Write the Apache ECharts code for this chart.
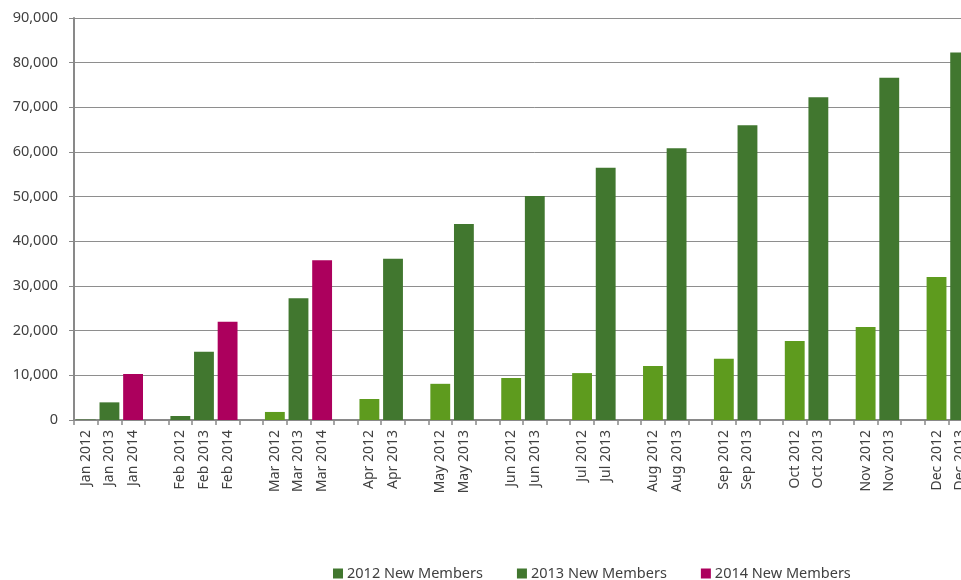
<!DOCTYPE html>
<html>
<head>
<meta charset="utf-8">
<script src="https://cdn.jsdelivr.net/npm/echarts@6/dist/echarts.min.js"></script>
<style>
html,body{margin:0;padding:0;background:#fff;overflow:hidden;}
#chart{width:1000px;height:580px;}
</style>
</head>
<body>
<div id="chart"></div>
<script>
var months = ['Jan','Feb','Mar','Apr','May','Jun','Jul','Aug','Sep','Oct','Nov','Dec'];
var members2012 = [100, 900, 1800, 4700, 8100, 9400, 10500, 12100, 13700, 17700, 20800, 32000];
var members2013 = [3950, 15300, 27250, 36100, 43900, 50150, 56500, 60850, 66000, 72250, 76600, 82300];
var members2014 = [10300, 22000, 35750];
var yTicks = [0, 10000, 20000, 30000, 40000, 50000, 60000, 70000, 80000, 90000];

var categories = [], s12 = [], s13 = [], s14 = [], monthOf = [];
months.forEach(function (m, i) {
  categories.push(m + ' 2012'); s12.push(members2012[i]); s13.push(null); s14.push(null); monthOf.push(i);
  categories.push(m + ' 2013'); s12.push(null); s13.push(members2013[i]); s14.push(null); monthOf.push(i);
  if (i < members2014.length) {
    categories.push(m + ' 2014'); s12.push(null); s13.push(null); s14.push(members2014[i]); monthOf.push(i);
  }
  categories.push(''); s12.push(null); s13.push(null); s14.push(null); monthOf.push(i);
});

var DARK = '#41772F', LIGHT = '#5E9B1E', MAG = '#AC005D';
var FONT = 'Noto Sans';
var chart = echarts.init(document.getElementById('chart'), null, {renderer: 'canvas'});
chart.setOption({
  animation: false,
  backgroundColor: '#fff',
  color: [DARK, DARK, MAG],
  textStyle: {fontFamily: FONT},
  legend: {
    left: 328, top: 561,
    itemWidth: 10, itemHeight: 10, itemGap: 34,
    icon: 'rect',
    textStyle: {fontFamily: FONT, fontSize: 14.5, color: '#404040', padding: [0, 0, 0, -1]},
    data: [
      {name: '2012 New Members', itemStyle: {color: DARK}},
      {name: '2013 New Members', itemStyle: {color: DARK}},
      {name: '2014 New Members', itemStyle: {color: MAG}}
    ]
  },
  grid: {left: 74, top: 18, height: 402, width: 921.6, containLabel: false},
  xAxis: {
    type: 'category',
    data: categories,
    axisLine: {lineStyle: {color: '#898989', width: 2}},
    axisTick: {show: true, interval: 0, length: 5, lineStyle: {color: '#898989', width: 1.5}},
    axisLabel: {interval: 0, rotate: 90, margin: 10, fontSize: 14, color: '#404040', fontFamily: FONT},
    splitLine: {show: false}
  },
  yAxis: {
    type: 'value',
    min: yTicks[0], max: yTicks[yTicks.length - 1], interval: yTicks[1] - yTicks[0],
    axisLine: {show: true, lineStyle: {color: '#898989', width: 2}},
    axisTick: {show: true, length: 5, lineStyle: {color: '#898989', width: 1}},
    axisLabel: {margin: 16, fontSize: 14.5, color: '#404040', fontFamily: FONT,
      formatter: function (v) { return v.toLocaleString('en-US'); }},
    splitLine: {show: true, lineStyle: {color: '#8E8E8E', width: 1}}
  },
  series: [
    {name: '2012 New Members', type: 'bar', data: s12, barGap: '-100%', barCategoryGap: '16%',
      itemStyle: {color: function (p) {
        if (p.dataIndex === undefined || p.dataIndex === null) return DARK;
        return monthOf[p.dataIndex] < 2 ? DARK : LIGHT;
      }}},
    {name: '2013 New Members', type: 'bar', data: s13, barGap: '-100%', barCategoryGap: '16%',
      itemStyle: {color: DARK}},
    {name: '2014 New Members', type: 'bar', data: s14, barGap: '-100%', barCategoryGap: '16%',
      itemStyle: {color: MAG}}
  ]
});
</script>
</body>
</html>
